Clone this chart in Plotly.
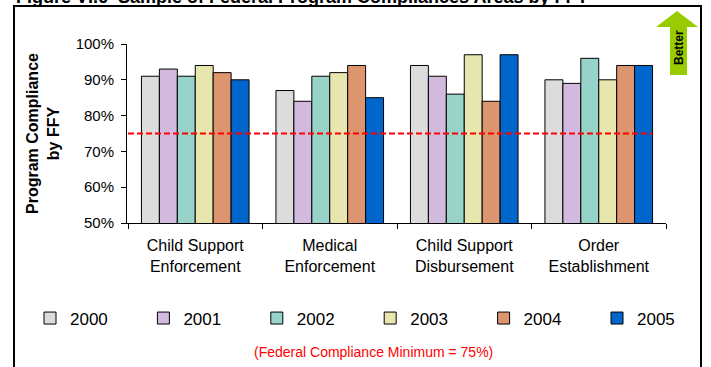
import plotly.graph_objects as go

# Compliance rates (%) by federal fiscal year for four program areas
categories = [
    "Child Support<br>Enforcement",
    "Medical<br>Enforcement",
    "Child Support<br>Disbursement",
    "Order<br>Establishment",
]
years = ["2000", "2001", "2002", "2003", "2004", "2005"]
values_2000 = [91, 87, 94, 90]
values_2001 = [93, 84, 91, 89]
values_2002 = [91, 91, 86, 96]
values_2003 = [94, 92, 97, 90]
values_2004 = [92, 94, 84, 94]
values_2005 = [90, 85, 97, 94]
federal_minimum = 75

series = [values_2000, values_2001, values_2002, values_2003, values_2004, values_2005]
colors = ["#DCDCDC", "#D1BADE", "#98D3CA", "#E8E6AF", "#DD9570", "#0066CC"]

FONT = "Liberation Sans, Arial, sans-serif"
W, H = 711, 367
ML, MR, MT, MB = 127, 45, 44, 144
PW, PH = W - ML - MR, H - MT - MB
LEGEND_STEP = 113.4  # horizontal pitch of legend entries (px)


def px(x):
    """Page pixel x -> paper x."""
    return (x - ML) / PW


def py(y):
    """Page pixel y -> paper y."""
    return (H - MB - y) / PH


fig = go.Figure()
for i, (year, vals, col) in enumerate(zip(years, series, colors)):
    fig.add_trace(go.Bar(
        name=year, x=categories, y=vals,
        marker=dict(color=col, line=dict(color="#000000", width=1)),
        legend="legend" if i < 3 else "legend2",
    ))

# Federal compliance minimum reference line
fig.add_shape(type="line", xref="x", yref="y",
              x0=-0.5, x1=3.4, y0=federal_minimum, y1=federal_minimum,
              line=dict(color="#FF0000", width=2, dash="6px,3px"))

# Outer frame
fig.add_shape(type="rect", xref="paper", yref="paper",
              x0=px(14), x1=px(701), y0=py(6), y1=py(380),
              line=dict(color="#000000", width=2), layer="below")

# "Better" arrow
arrow = [(677, 11), (698, 27), (687, 27), (687, 75), (670, 75), (670, 27), (656, 27)]
path = "M " + " L ".join(f"{px(x):.5f},{py(y):.5f}" for x, y in arrow) + " Z"
fig.add_shape(type="path", xref="paper", yref="paper", path=path,
              fillcolor="#99CC00", line=dict(width=0))
fig.add_annotation(xref="paper", yref="paper", x=px(679), y=py(48),
                   xanchor="center", yanchor="middle",
                   text="<b>Better</b>", textangle=-90, showarrow=False,
                   font=dict(family=FONT, size=12, color="#000000"))

# Figure title (top edge of the page)
fig.add_annotation(xref="paper", yref="paper", x=px(14), y=py(-3),
                   xanchor="left", yanchor="middle",
                   text="<b>Figure VI.6  Sample of Federal Program Compliances Areas by FFY</b>",
                   showarrow=False, font=dict(family=FONT, size=18, color="#000000"))

# Footnote
fig.add_annotation(xref="paper", yref="paper", x=px(373), y=py(352),
                   xanchor="center", yanchor="middle",
                   text="(Federal Compliance Minimum = 75%)", showarrow=False,
                   font=dict(family=FONT, size=14, color="#FF0000"))

# Y-axis title
fig.add_annotation(xref="paper", yref="paper", x=px(43), y=py(134),
                   xanchor="center", yanchor="middle",
                   text="<b>Program Compliance<br>by FFY</b>", textangle=-90,
                   showarrow=False, font=dict(family=FONT, size=16, color="#000000"))

legend_common = dict(
    orientation="h", yanchor="middle", xanchor="left", y=py(318.5),
    font=dict(family=FONT, size=17, color="#000000"),
    entrywidth=LEGEND_STEP - 45, entrywidthmode="pixels", itemwidth=30,
    bgcolor="rgba(0,0,0,0)", traceorder="normal",
)

fig.update_layout(
    width=W, height=H,
    margin=dict(l=ML, r=MR, t=MT, b=MB, pad=0, autoexpand=False),
    paper_bgcolor="#FFFFFF", plot_bgcolor="#FFFFFF",
    font=dict(family=FONT, color="#000000"),
    barmode="group", bargap=0.2, bargroupgap=0,
    showlegend=True,
    legend=dict(x=px(30), **legend_common),
    legend2=dict(x=px(30 + 3 * LEGEND_STEP), **legend_common),
    xaxis=dict(
        showline=True, linecolor="#000000", linewidth=1,
        ticks="outside", tickson="boundaries", ticklen=5, tickcolor="#000000",
        tickfont=dict(family=FONT, size=16, color="#000000"),
        ticklabelstandoff=8,
        showgrid=False, zeroline=False,
    ),
    yaxis=dict(
        range=[50, 100], dtick=10, ticksuffix="%",
        showline=True, linecolor="#000000", linewidth=1,
        ticks="outside", ticklen=5, tickcolor="#000000",
        tickfont=dict(family=FONT, size=15, color="#000000"),
        ticklabelstandoff=4,
        showgrid=False, zeroline=False,
    ),
)

fig.write_html("out.html")
